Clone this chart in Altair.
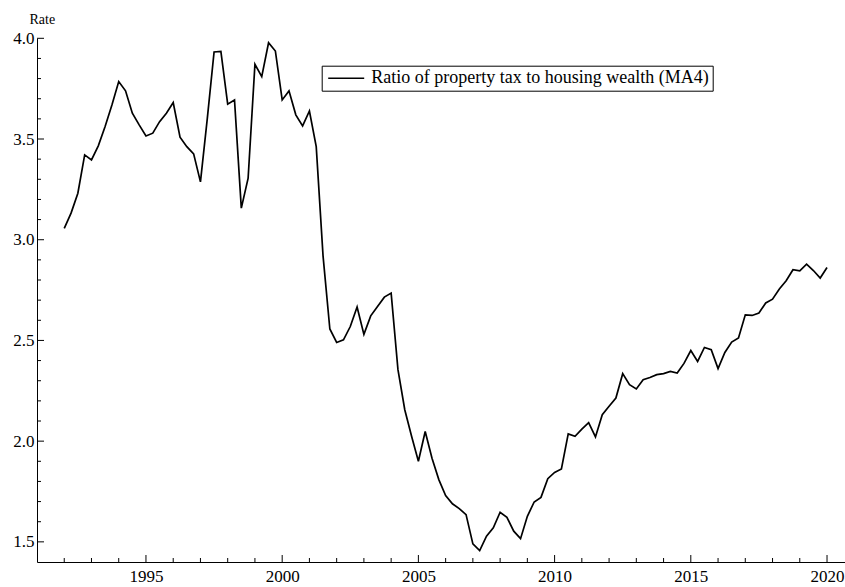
import altair as alt
import pandas as pd

# Quarterly series, 1992Q1 .. 2020Q1 (four-quarter moving average)
SERIES_NAME = "Ratio of property tax to housing wealth (MA4)"
FIRST_YEAR = 1992
rate = [
    3.056, 3.132, 3.231, 3.421,   # 1992
    3.396, 3.466, 3.562, 3.669,   # 1993
    3.785, 3.739, 3.628, 3.570,   # 1994
    3.515, 3.529, 3.586, 3.628,   # 1995
    3.681, 3.509, 3.462, 3.426,   # 1996
    3.287, 3.600, 3.932, 3.935,   # 1997
    3.673, 3.694, 3.157, 3.306,   # 1998
    3.871, 3.810, 3.978, 3.937,   # 1999
    3.694, 3.739, 3.620, 3.565,   # 2000
    3.639, 3.462, 2.920, 2.557,   # 2001
    2.490, 2.503, 2.569, 2.666,   # 2002
    2.530, 2.622, 2.669, 2.715,   # 2003
    2.735, 2.355, 2.156, 2.024,   # 2004
    1.900, 2.048, 1.915, 1.809,   # 2005
    1.730, 1.689, 1.665, 1.635,   # 2006
    1.490, 1.457, 1.528, 1.570,   # 2007
    1.647, 1.622, 1.553, 1.516,   # 2008
    1.627, 1.698, 1.721, 1.814,   # 2009
    1.845, 1.862, 2.036, 2.024,   # 2010
    2.060, 2.092, 2.021, 2.131,   # 2011
    2.173, 2.214, 2.335, 2.280,   # 2012
    2.259, 2.305, 2.316, 2.330,   # 2013
    2.335, 2.346, 2.338, 2.386,   # 2014
    2.450, 2.396, 2.465, 2.454,   # 2015
    2.360, 2.440, 2.492, 2.512,   # 2016
    2.627, 2.624, 2.636, 2.686,   # 2017
    2.705, 2.755, 2.796, 2.851,   # 2018
    2.846, 2.879, 2.847, 2.810,   # 2019
    2.862,                        # 2020
]
time = [FIRST_YEAR + i / 4 for i in range(len(rate))]

# Axis tick positions
x_major = [1995, 2000, 2005, 2010, 2015, 2020]
x_minor = [y for y in range(1992, 2021) if y not in x_major]
y_major = [1.5, 2.0, 2.5, 3.0, 3.5, 4.0]
y_minor = [1.6, 1.7, 1.8, 1.9, 2.1, 2.2, 2.3, 2.4, 2.6, 2.7, 2.8, 2.9,
           3.1, 3.2, 3.3, 3.4, 3.6, 3.7, 3.8, 3.9]

FONT = "Liberation Serif"
W, H = 808, 523.7

df = pd.DataFrame({"time": time, "rate": rate, "series": SERIES_NAME})

x_scale = alt.Scale(domain=[1991, 2020.66], nice=False, zero=False)
y_scale = alt.Scale(domain=[1.4, 4.0], nice=False, zero=False)

x_axis = alt.Axis(
    values=x_major, format="d", title=None, ticks=False, tickSize=0,
    grid=False, domainColor="black", domainWidth=1,
    labelFont=FONT, labelFontSize=17, labelColor="black", labelPadding=6,
)
y_axis = alt.Axis(
    values=y_major, format=".1f", title="Rate", ticks=False, tickSize=0,
    grid=False, domainColor="black", domainWidth=1,
    labelFont=FONT, labelFontSize=17, labelColor="black", labelPadding=3,
    titleAngle=0, titleAlign="left", titleBaseline="alphabetic",
    titleX=-8, titleY=-15, titleFont=FONT, titleFontSize=14,
    titleFontWeight="normal", titleColor="black",
)

legend = alt.Legend(
    title=None, orient="none", legendX=284.7, legendY=27.4,
    strokeColor="black", padding=3.5,
    symbolType="M-1,0H5", symbolSize=144, symbolStrokeWidth=1.6,
    symbolFillColor="transparent",
    labelOffset=28, labelFont=FONT, labelFontSize=18, labelColor="black",
    labelLimit=600,
)

line = alt.Chart(df).mark_line(strokeWidth=1.7).encode(
    x=alt.X("time:Q", scale=x_scale, axis=x_axis),
    y=alt.Y("rate:Q", scale=y_scale, axis=y_axis),
    color=alt.Color("series:N", scale=alt.Scale(range=["black"]), legend=legend),
)


def x_ticks(values, length):
    return alt.Chart(pd.DataFrame({"time": values})).mark_rule(
        color="black", strokeWidth=1
    ).encode(
        x=alt.X("time:Q", scale=x_scale, axis=x_axis),
        y=alt.value(H),
        y2=alt.value(H - length),
    )


def y_ticks(values, length):
    return alt.Chart(pd.DataFrame({"rate": values})).mark_rule(
        color="black", strokeWidth=1
    ).encode(
        y=alt.Y("rate:Q", scale=y_scale, axis=y_axis),
        x=alt.value(0),
        x2=alt.value(length),
    )


chart = alt.layer(
    line,
    x_ticks(x_major, 7), x_ticks(x_minor, 4),
    y_ticks(y_major, 7), y_ticks(y_minor, 4),
).properties(
    width=W, height=H,
    autosize=alt.AutoSizeParams(type="none"),
    padding={"left": 37, "top": 38.3, "right": 0, "bottom": 25},
    background="white",
).configure_view(strokeWidth=0)

chart.save("out.html", embed_options={"renderer": "svg", "actions": False})
